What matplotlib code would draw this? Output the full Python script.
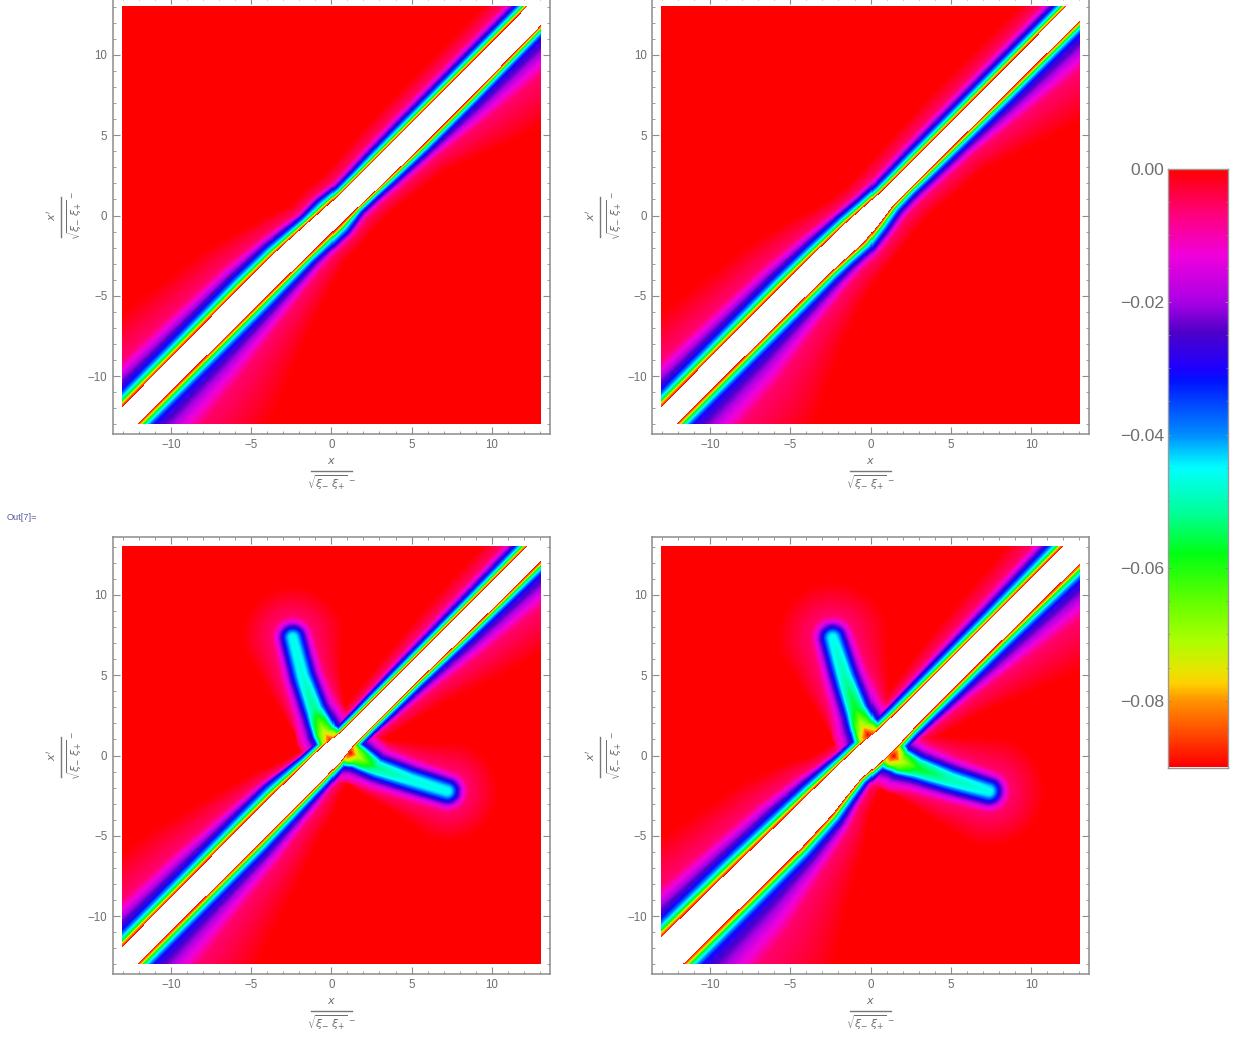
import numpy as np
import matplotlib
matplotlib.use('Agg')
import matplotlib.pyplot as plt
from matplotlib.colors import LinearSegmentedColormap
from matplotlib.lines import Line2D
from matplotlib.ticker import MultipleLocator

plt.rcParams['font.family'] = ['Liberation Sans', 'DejaVu Sans']

W, H = 1239, 1039
GREY = '#6e6e6e'
FRAME = '#8c8c8c'

# colour function
cbar_values = [0, -0.007, -0.013, -0.02, -0.0245, -0.03, -0.032, -0.04, -0.045, -0.052,
               -0.058, -0.065, -0.071, -0.0755, -0.0775, -0.08, -0.09]
cbar_colors = ['#ff0000', '#ff0080', '#f000dc', '#aa00e6', '#5000c8', '#1e00ff', '#0014ff', '#008cff',
               '#00ffff', '#00ff96', '#00ff14', '#60ff00', '#aaff00', '#e6e600', '#ffd200', '#ff9600', '#ff0000']
cbar_ticks = [0, -0.02, -0.04, -0.06, -0.08]
cbar_labels = ['0.00', '\u22120.02', '\u22120.04', '\u22120.06', '\u22120.08']

# levels of the contours traced on each side of the diagonal band
levels = [-0.09, -0.078, -0.06, -0.045, -0.03, -0.015, -0.006, 0.0]
core_frac = [0, 0.2, 0.33, 0.57, 1.0]
halo_frac = [0.2, 0.35, 1.0]

# position along the diagonal, (x + x') / 2
stations = [-13.5, -8, -5, -3, -2, -1, 0, 1, 2, 3, 5, 8, 13.5]

# panel 1 (top left): distance from the diagonal to the white edge, blue contour, plain red
p1_up_edge = [1.03, 1.10, 1.16, 1.14, 1.05, 0.95, 0.82, 0.76, 0.76, 0.76, 0.76, 0.78, 0.82]
p1_up_core = [1.15, 1.10, 1.05, 0.95, 0.85, 0.75, 0.90, 0.70, 0.72, 0.78, 0.82, 0.82, 0.82]
p1_up_halo = [7.0, 5.5, 4.6, 3.4, 2.9, 2.2, 2.4, 2.2, 2.4, 2.6, 2.8, 2.8, 2.9]
p1_lo_edge = [0.94, 1.0, 1.03, 1.06, 1.10, 1.12, 1.12, 1.12, 1.18, 1.22, 1.30, 1.30, 1.15]
p1_lo_core = [1.1, 1.05, 1.0, 0.9, 0.8, 0.9, 0.95, 0.6, 0.6, 0.68, 0.75, 0.78, 0.8]
p1_lo_halo = [11, 8, 5.5, 4, 3.3, 2.6, 2.6, 2.4, 2.4, 2.6, 3.1, 5.5, 9]

# panel 2 (top right)
p2_up_edge = [1.03, 1.08, 1.10, 1.08, 1.04, 1.0, 0.88, 0.80, 0.78, 0.78, 0.78, 0.80, 0.82]
p2_up_core = [1.15, 1.10, 1.05, 0.95, 0.90, 0.85, 0.80, 0.75, 0.80, 0.85, 0.85, 0.85, 0.85]
p2_up_halo = [7, 5.5, 4.8, 3.8, 3.2, 2.6, 2.4, 2.5, 2.7, 2.8, 3, 3, 3]
p2_lo_edge = [0.95, 1.0, 1.05, 1.10, 1.20, 1.30, 1.05, 0.77, 0.75, 0.77, 0.80, 0.85, 0.90]
p2_lo_core = [1.1, 1.05, 1.0, 0.9, 0.85, 0.9, 0.9, 0.8, 0.75, 0.8, 0.85, 0.9, 0.9]
p2_lo_halo = [11, 8.5, 5.5, 4, 3.4, 3, 3, 3, 3, 3.2, 3.5, 5.5, 9]

# panel 3 (bottom left)
p3_up_edge = [1.03, 1.10, 1.16, 1.15, 1.10, 1.08, 1.05, 0.85, 0.85, 0.85, 0.85, 0.85, 0.85]
p3_up_core = [1.15, 1.05, 1.0, 1.0, 0.85, 0.65, 0.6, 0.55, 0.55, 0.6, 0.65, 0.7, 0.85]
p3_up_halo = [7, 5.5, 3.8, 2.6, 1.8, 1.2, 1.1, 1.2, 1.4, 1.6, 2.1, 2.6, 3]
p3_lo_edge = [0.95, 1.0, 1.02, 1.02, 1.03, 1.02, 0.95, 0.72, 0.70, 0.70, 0.72, 0.85, 0.95]
p3_lo_core = [1.1, 1.0, 0.95, 0.8, 0.7, 0.65, 0.6, 0.55, 0.55, 0.6, 0.65, 0.75, 0.9]
p3_lo_halo = [11, 7, 5, 3.5, 3, 2, 1.8, 1.1, 1.5, 2, 3, 5, 8]

# panel 4 (bottom right)
p4_up_edge = [1.68, 1.55, 1.42, 1.38, 1.33, 1.31, 1.25, 1.10, 1.05, 1.02, 1.0, 1.0, 1.05]
p4_up_core = [1.3, 1.2, 1.1, 0.95, 0.85, 0.7, 0.7, 0.75, 0.75, 0.8, 0.85, 0.9, 1.1]
p4_up_halo = [8, 6, 5, 3.5, 2.4, 1.8, 1.6, 1.6, 1.7, 2, 2.6, 3.2, 4]
p4_lo_edge = [1.35, 1.45, 1.5, 1.35, 1.1, 0.9, 1.05, 1.1, 1.0, 0.98, 0.98, 1.0, 1.1]
p4_lo_core = [1.3, 1.2, 1.1, 0.95, 0.8, 0.65, 0.65, 0.7, 0.7, 0.75, 0.85, 0.95, 1.2]
p4_lo_halo = [14, 10, 6, 4, 2.8, 2, 1.7, 1.6, 1.8, 2.3, 3.5, 6, 10]

# arms of the bottom panels: centre line, centre value, half width to blue, reach to plain red
p3_arm1_x = [-2.38, -1.76, -1.03, -0.40, 0.0]
p3_arm1_y = [7.32, 4.91, 2.83, 1.38, 0.86]
p3_arm1_val = [-0.047, -0.048, -0.053, -0.075, -0.09]
p3_arm1_wid = [0.62, 0.65, 0.7, 0.85, 1.0]
p3_arm1_halo = [3.2, 2.4, 1.9, 1.6, 1.6]
p3_arm2_x = [7.18, 4.9, 2.8, 1.57, 1.15]
p3_arm2_y = [-2.25, -1.53, -0.8, -0.07, 0.13]
p3_arm2_val = [-0.047, -0.048, -0.053, -0.075, -0.09]
p3_arm2_wid = [0.62, 0.65, 0.7, 0.85, 1.0]
p3_arm2_halo = [3.2, 2.4, 1.9, 1.6, 1.6]

p4_arm1_x = [-2.32, -1.59, -0.87, -0.44, -0.13]
p4_arm1_y = [7.3, 4.9, 2.83, 1.8, 1.28]
p4_arm1_val = [-0.047, -0.051, -0.059, -0.075, -0.09]
p4_arm1_wid = [0.65, 0.72, 0.8, 0.95, 1.1]
p4_arm1_halo = [3.5, 2.8, 2.2, 2.0, 1.8]
p4_arm2_x = [7.34, 4.95, 2.88, 1.84, 1.43]
p4_arm2_y = [-2.25, -1.53, -0.8, -0.39, -0.07]
p4_arm2_val = [-0.047, -0.051, -0.059, -0.075, -0.09]
p4_arm2_wid = [0.65, 0.72, 0.8, 0.95, 1.1]
p4_arm2_halo = [3.5, 2.8, 2.2, 2.0, 1.8]

# frame left edge and vertical centre of each panel, in pixels
panels = [
    dict(left=113, centre=215.5,
         up=(p1_up_edge, p1_up_core, p1_up_halo), lo=(p1_lo_edge, p1_lo_core, p1_lo_halo), arms=[]),
    dict(left=652.3, centre=215.5,
         up=(p2_up_edge, p2_up_core, p2_up_halo), lo=(p2_lo_edge, p2_lo_core, p2_lo_halo), arms=[]),
    dict(left=113, centre=755.5,
         up=(p3_up_edge, p3_up_core, p3_up_halo), lo=(p3_lo_edge, p3_lo_core, p3_lo_halo),
         arms=[(p3_arm1_x, p3_arm1_y, p3_arm1_val, p3_arm1_wid, p3_arm1_halo),
               (p3_arm2_x, p3_arm2_y, p3_arm2_val, p3_arm2_wid, p3_arm2_halo)]),
    dict(left=652.3, centre=755.5,
         up=(p4_up_edge, p4_up_core, p4_up_halo), lo=(p4_lo_edge, p4_lo_core, p4_lo_halo),
         arms=[(p4_arm1_x, p4_arm1_y, p4_arm1_val, p4_arm1_wid, p4_arm1_halo),
               (p4_arm2_x, p4_arm2_y, p4_arm2_val, p4_arm2_wid, p4_arm2_halo)]),
]


def stepThrough(dist, contours, values):
    # value at each pixel from the contours that bracket it
    out = np.full(dist.shape, float(values[-1]))
    out[dist <= contours[0]] = values[0]
    for i in range(len(values) - 1):
        lo, hi = contours[i], contours[i + 1]
        inside = (dist > lo) & (dist <= hi)
        frac = (dist - lo) / np.maximum(hi - lo, 1e-6)
        out[inside] = (values[i] + (values[i + 1] - values[i]) * frac)[inside]
    return out


def bandSide(s, dist, edge, core, halo):
    e = np.interp(s, stations, edge)
    c = np.interp(s, stations, core)
    h = np.maximum(np.interp(s, stations, halo), c + 0.1)
    contours = [e + c * f for f in core_frac] + [e + c + (h - c) * f for f in halo_frac]
    out = stepThrough(dist, contours, levels)
    out[dist < e] = np.nan
    return out


def armField(X, Y, ax_, ay_, val, wid, halo):
    ax_, ay_ = np.array(ax_), np.array(ay_)
    best = np.full(X.shape, np.inf)
    tpos = np.zeros(X.shape)
    for i in range(len(ax_) - 1):
        dx, dy = ax_[i + 1] - ax_[i], ay_[i + 1] - ay_[i]
        u = np.clip(((X - ax_[i]) * dx + (Y - ay_[i]) * dy) / (dx * dx + dy * dy), 0, 1)
        dist = np.hypot(X - ax_[i] - u * dx, Y - ay_[i] - u * dy)
        closer = dist < best
        best[closer] = dist[closer]
        tpos[closer] = (i + u)[closer]
    idx = np.arange(len(ax_))
    c = np.interp(tpos, idx, val)
    w = np.interp(tpos, idx, wid)
    h = np.maximum(np.interp(tpos, idx, halo), 2.2 * w)
    # flat cyan core, then the fall to blue, magenta, pink and plain red
    contours = [np.zeros(X.shape), 0.5 * w, w, 1.55 * w, 2.1 * w, h]
    steps = [(c, c + 0.25 * (-0.03 - c)), (c + 0.25 * (-0.03 - c), -0.03), (-0.03, -0.015),
             (-0.015, -0.006), (-0.006, 0.0)]
    out = np.zeros(X.shape)
    for i, (v0, v1) in enumerate(steps):
        inside = (best >= contours[i]) & (best < contours[i + 1])
        frac = (best - contours[i]) / np.maximum(contours[i + 1] - contours[i], 1e-6)
        val_here = v0 + (v1 - v0) * frac
        out[inside] = val_here[inside]
    return out


def panelField(panel, n=418):
    grid = np.linspace(-13, 13, n)
    X, Y = np.meshgrid(grid, grid)
    s = (X + Y) / 2
    d = Y - X
    Z = np.where(d > 0, bandSide(s, d, *panel['up']), bandSide(s, -d, *panel['lo']))
    for arm in panel['arms']:
        Z = np.fmin(Z, armField(X, Y, *arm)) * np.where(np.isnan(Z), np.nan, 1.0)
    return np.ma.masked_invalid(Z)


def figText(px, py, txt, **kw):
    fig.text(px / W, 1 - py / H, txt, ha='center', va='center', color=GREY, **kw)


def figLine(x0, y0, x1, y1):
    fig.add_artist(Line2D([x0 / W, x1 / W], [1 - y0 / H, 1 - y1 / H], color='#777777', lw=1.0))


def addLabels(left, centre):
    root = r'$\sqrt{\xi_{-}\;\xi_{+}}^{\,-}$'
    mid = left + 218.5
    bottom = centre + 218
    figText(mid, bottom + 28, r'$x$', fontsize=8)
    figLine(mid - 21, bottom + 37, mid + 20, bottom + 37)
    figText(mid, bottom + 49, root, fontsize=8)
    figText(left - 62, centre, r"$x'$", fontsize=8, rotation=90)
    figLine(left - 52.5, centre - 19, left - 52.5, centre + 21)
    figText(left - 38, centre, root, fontsize=8, rotation=90)


cmap = LinearSegmentedColormap.from_list(
    'legend', [((v + 0.09) / 0.09, c) for v, c in sorted(zip(cbar_values, cbar_colors))], N=512)
cmap.set_bad('white')

fig = plt.figure(figsize=(W / 100, H / 100), dpi=100, facecolor='white')
SIZE = 436.6

for panel in panels:
    left, centre = panel['left'], panel['centre']
    top = centre - SIZE / 2
    ax = fig.add_axes([left / W, 1 - (top + SIZE) / H, SIZE / W, SIZE / H])
    ax.imshow(panelField(panel), origin='lower', extent=[-13.05, 13, -13, 13], cmap=cmap,
              vmin=-0.09, vmax=0, interpolation='nearest', aspect='auto')
    ax.set_xlim(-13.6, 13.6)
    ax.set_ylim(-13.6, 13.6)
    for axis in (ax.xaxis, ax.yaxis):
        axis.set_major_locator(MultipleLocator(5))
        axis.set_minor_locator(MultipleLocator(1))
    ax.tick_params(which='major', direction='in', length=5, width=0.8, color=FRAME, top=True, right=True,
                   labelsize=8.3, labelcolor=GREY, pad=4)
    ax.tick_params(which='minor', direction='in', length=2.5, width=0.6, color=FRAME, top=True, right=True)
    for sp in ax.spines.values():
        sp.set_color(FRAME)
        sp.set_linewidth(1.1)
    addLabels(left, centre)

# legend bar
cax = fig.add_axes([1168 / W, 1 - 767.5 / H, 60 / W, 599 / H])
cax.imshow(np.linspace(-0.09, 0, 600)[:, None], origin='lower', extent=[0, 1, -0.09, 0], cmap=cmap,
           vmin=-0.09, vmax=0, aspect='auto')
cax.set_xticks([])
cax.set_yticks(cbar_ticks)
cax.set_yticklabels(cbar_labels)
cax.yaxis.set_minor_locator(MultipleLocator(0.005))
cax.tick_params(which='major', direction='in', length=2.5, width=0.7, color=FRAME, left=True, right=True,
                labelsize=12.6, labelcolor=GREY, pad=3)
cax.tick_params(which='minor', direction='in', length=1.5, width=0.5, color=FRAME, left=True, right=True)
for sp in cax.spines.values():
    sp.set_color('#9a9a9a')
    sp.set_linewidth(1.0)

fig.text(7 / W, 1 - 517 / H, 'Out[7]=', fontsize=6.6, color='#5a5fa0', ha='left', va='center')

fig.savefig('out.png', dpi=100)
